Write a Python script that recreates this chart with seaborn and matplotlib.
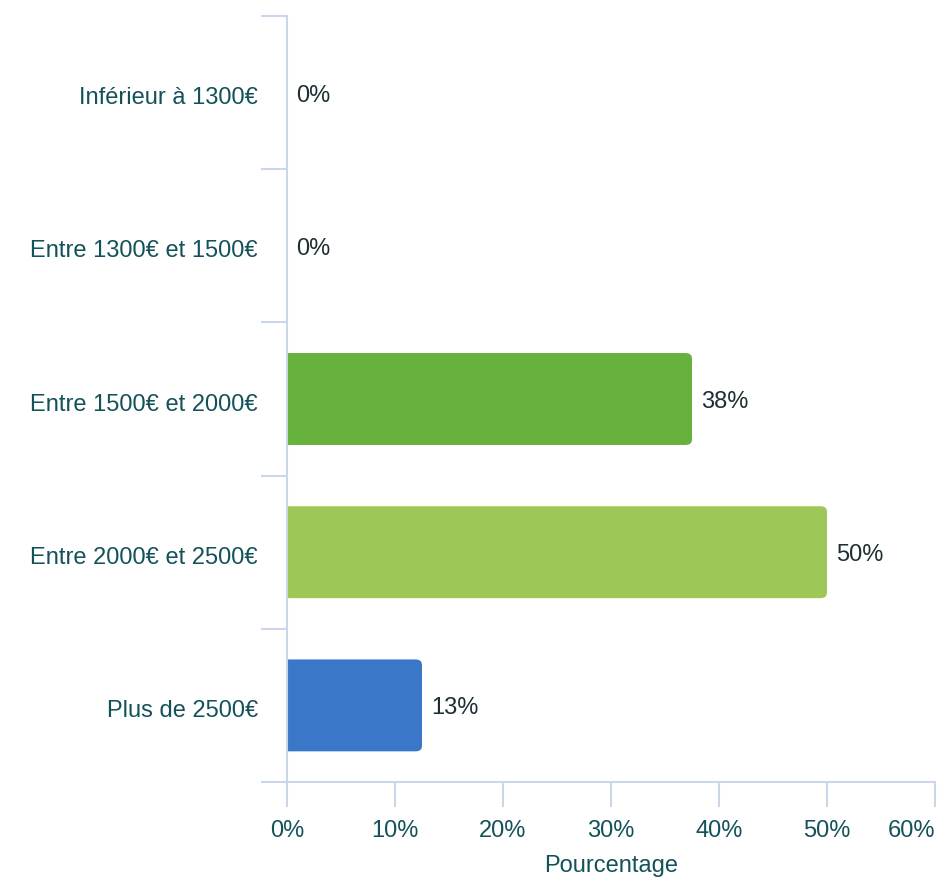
import matplotlib
matplotlib.use("Agg")
import matplotlib.pyplot as plt
import matplotlib.transforms as mtransforms
import seaborn as sns
import pandas as pd
from matplotlib.patches import FancyBboxPatch

# Data
categories = ["Inférieur à 1300€", "Entre 1300€ et 1500€", "Entre 1500€ et 2000€",
              "Entre 2000€ et 2500€", "Plus de 2500€"]
values = [0, 0, 37.5, 50, 12.5]
colors = ["#66b23c", "#66b23c", "#66b23c", "#9dc857", "#3a77c8"]
x_ticks = [0, 10, 20, 30, 40, 50, 60]

sns.set_theme(style="white")
plt.rcParams['font.family'] = ['Liberation Sans', 'DejaVu Sans']

label_color = "#14525a"
value_color = "#1e2f33"
axis_color = "#ccd6eb"
fs = 17

df = pd.DataFrame({"cat": categories, "val": values})

fig = plt.figure(figsize=(9.4, 8.8), dpi=100)
ax = fig.add_axes([287 / 940, 1 - 782 / 880, (935 - 287) / 940, (782 - 16) / 880])

sns.barplot(data=df, x="val", y="cat", hue="cat", palette=colors, legend=False,
            width=0.6, saturation=1, ax=ax, orient="h")

ax.set_xlim(0, 60)
ax.set_ylim(4.5, -0.5)

# Rounded right corners (left side hidden by the axis clip)
for p in list(ax.patches):
    x0, y0 = p.get_x(), p.get_y()
    w, h = p.get_width(), p.get_height()
    fc = p.get_facecolor()
    p.remove()
    if w <= 0:
        continue
    fb = FancyBboxPatch((x0 - 2, y0), w + 2, h,
                        boxstyle="round,pad=0,rounding_size=0.6",
                        mutation_aspect=0.06, facecolor=fc, edgecolor="none")
    ax.add_patch(fb)

# nudge texts a few pixels down, like the original
shift = mtransforms.ScaledTranslation(0, -3 / 100, fig.dpi_scale_trans)

for i, v in enumerate(values):
    ax.text(v + 0.85, i, f"{round(v + 0.001):d}%", va="center", ha="left",
            fontsize=fs, color=value_color, transform=ax.transData + shift)

for s in ["top", "right"]:
    ax.spines[s].set_visible(False)
for s in ["left", "bottom"]:
    ax.spines[s].set_color(axis_color)
    ax.spines[s].set_linewidth(1.5)

ax.set_xticks(x_ticks)
ax.set_xticklabels([f"{t}%" for t in x_ticks])
ax.set_yticks(range(len(categories)))
ax.set_yticklabels(categories)
ax.set_yticks([i - 0.5 for i in range(len(categories) + 1)], minor=True)

ax.tick_params(axis="y", which="major", length=0, pad=21, labelsize=fs, labelcolor=label_color)
ax.tick_params(axis="y", which="minor", length=19, width=1.5, color=axis_color, left=True)
ax.tick_params(axis="x", which="major", length=18, width=1.5, color=axis_color,
               pad=9, labelsize=fs, labelcolor=label_color, bottom=True)

for lbl in ax.get_yticklabels():
    lbl.set_transform(lbl.get_transform() + shift)

ax.get_xticklabels()[-1].set_horizontalalignment("right")
ax.get_xticklabels()[-1].set_x(60)

ax.set_ylabel("")
ax.set_xlabel("Pourcentage", fontsize=fs, color=label_color, labelpad=10)
ax.grid(False)

fig.savefig("out.png", dpi=100)
